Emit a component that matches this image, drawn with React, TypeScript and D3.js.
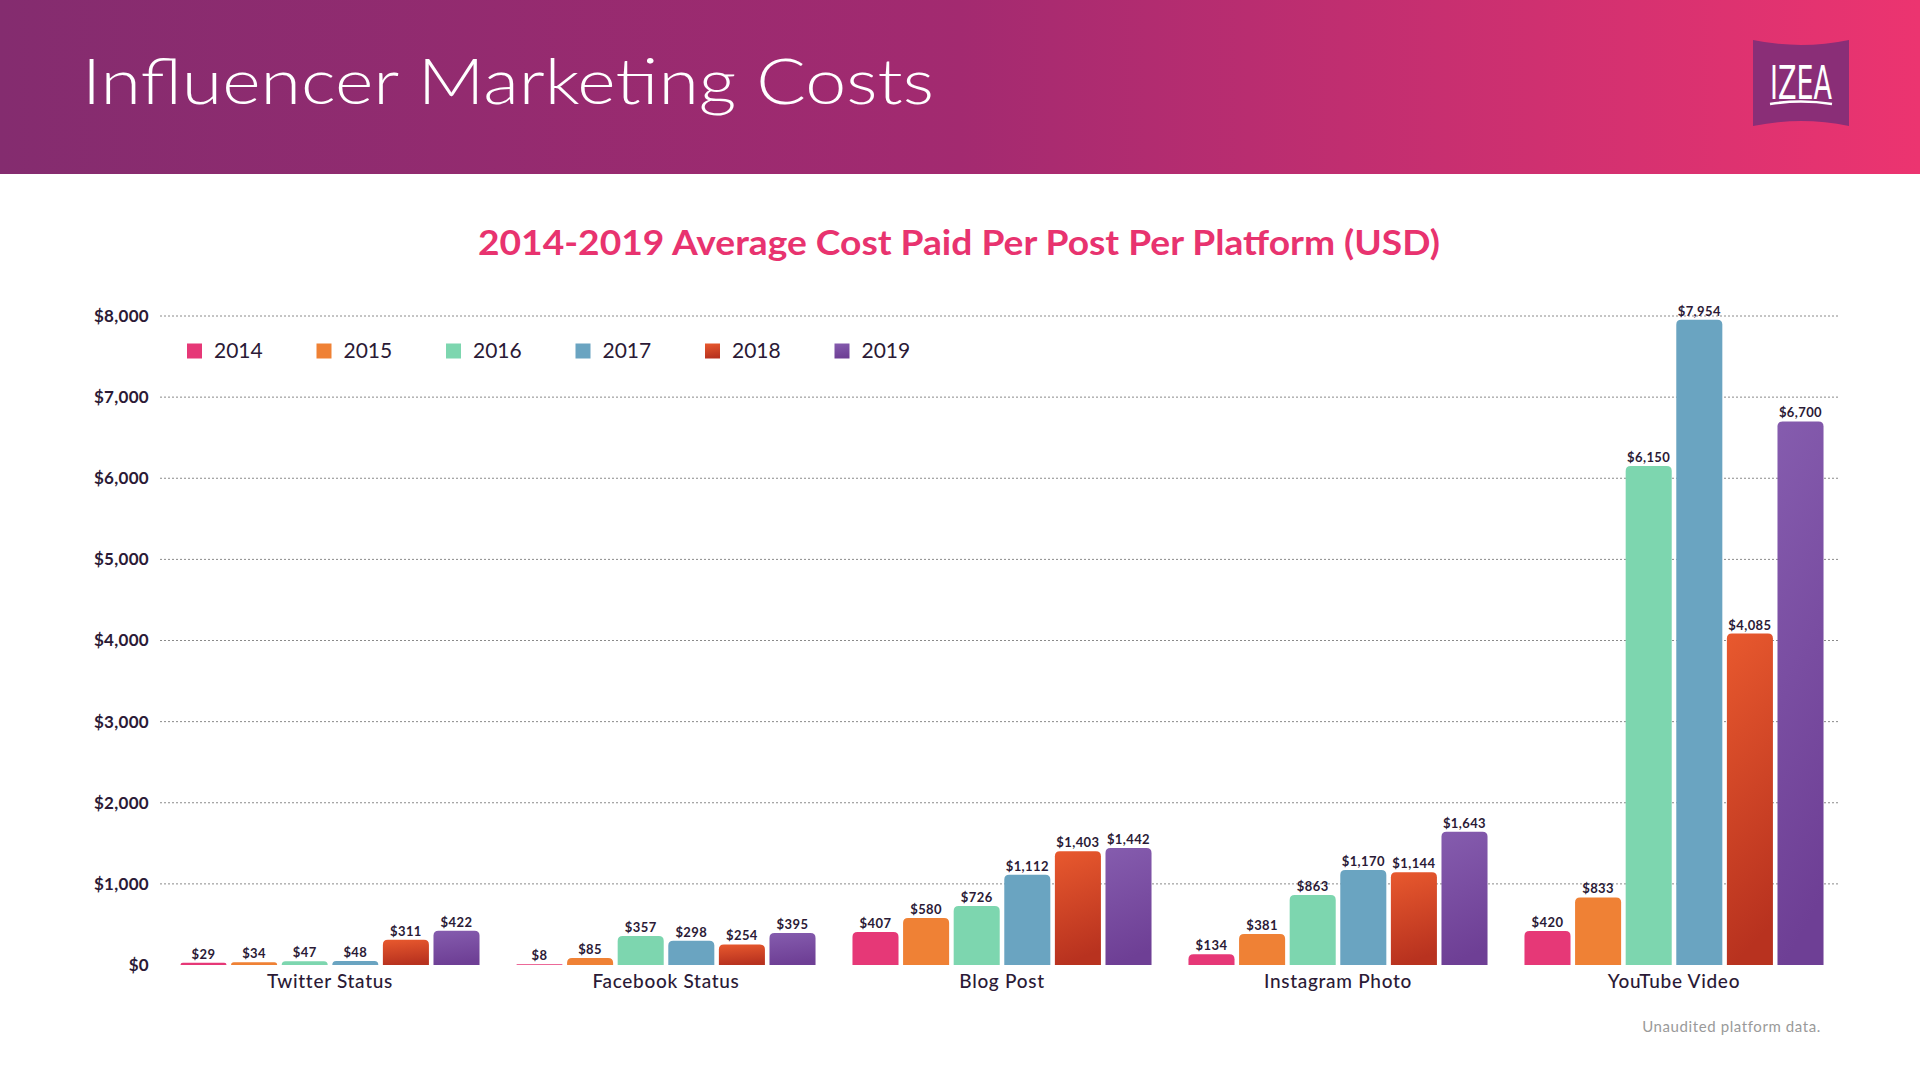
import * as React from "react";
import * as d3 from "d3";

const platforms = ["Twitter Status", "Facebook Status", "Blog Post", "Instagram Photo", "YouTube Video"];
const years = ["2014", "2015", "2016", "2017", "2018", "2019"];

// cost per post, one array per year, in platform order
const cost2014 = [29, 8, 407, 134, 420];
const cost2015 = [34, 85, 580, 381, 833];
const cost2016 = [47, 357, 726, 863, 6150];
const cost2017 = [48, 298, 1112, 1170, 7954];
const cost2018 = [311, 254, 1403, 1144, 4085];
const cost2019 = [422, 395, 1442, 1643, 6700];
const costs = [cost2014, cost2015, cost2016, cost2017, cost2018, cost2019];

const yTicks = [0, 1000, 2000, 3000, 4000, 5000, 6000, 7000, 8000];

const W = 1920;
const H = 1080;
const FONT = "Lato, 'Open Sans', sans-serif";
const INK = "#2b1a36";

// flat colours, 2018 and 2019 are gradients
const fills: Record<string, string> = {
  "2014": "#e63877",
  "2015": "#ef8135",
  "2016": "#7dd6af",
  "2017": "#6aa4c1",
  "2018": "url(#g2018)",
  "2019": "url(#g2019)",
};

const money = (v: number) => "$" + d3.format(",")(v);

// path for a bar with rounded top corners
const barPath = (x: number, y: number, w: number, h: number, r: number) => {
  const rr = Math.min(r, h, w / 2);
  return `M${x},${y + h}V${y + rr}Q${x},${y} ${x + rr},${y}H${x + w - rr}Q${x + w},${y} ${x + w},${y + rr}V${y + h}Z`;
};

const App = () => {
  const x0 = d3.scaleBand().domain(platforms).range([162, 1842]).padding(0);
  const x1 = d3
    .scaleBand()
    .domain(years)
    .range([0, x0.bandwidth()])
    .paddingInner(0.09)
    .paddingOuter(0.365);
  const y = d3.scaleLinear().domain([0, 8000]).range([965, 316]);

  const legendX = d3.scaleBand().domain(years).range([187, 187 + 129.5 * 6]);

  const bars = platforms.flatMap((p, pi) =>
    years.map((yr, yi) => {
      const v = costs[yi][pi];
      const bx = (x0(p) ?? 0) + (x1(yr) ?? 0);
      const bw = x1.bandwidth();
      const top = y(v);
      return (
        <g key={p + yr}>
          <path d={barPath(bx, top, bw, y(0) - top, 5)} fill={fills[yr]} />
          <text
            x={bx + bw / 2}
            y={top - 4}
            textAnchor="middle"
            fontSize={13}
            fontWeight={700}
            letterSpacing={0.4}
            fill={INK}
          >
            {money(v)}
          </text>
        </g>
      );
    })
  );

  return (
    <div style={{ position: "absolute", left: 0, top: 0 }}>
      <svg width={W} height={H} fontFamily={FONT} style={{ display: "block" }}>
        <defs>
          <linearGradient id="hdr" x1="0" y1="0" x2="1" y2="0">
            <stop offset="0%" stopColor="#842c6f" />
            <stop offset="50%" stopColor="#a32a70" />
            <stop offset="100%" stopColor="#ec3470" />
          </linearGradient>
          <linearGradient id="g2018" x1="0" y1="0" x2="0.15" y2="1">
            <stop offset="0%" stopColor="#e8592e" />
            <stop offset="100%" stopColor="#b8321f" />
          </linearGradient>
          <linearGradient id="g2019" x1="0" y1="0" x2="0.15" y2="1">
            <stop offset="0%" stopColor="#855cae" />
            <stop offset="100%" stopColor="#6e3f95" />
          </linearGradient>
        </defs>

        <rect x={0} y={0} width={W} height={H} fill="#fff" />

        {/* header band */}
        <rect x={0} y={0} width={W} height={174} fill="url(#hdr)" />
        <text
          x={82}
          y={104}
          fontSize={64}
          fontWeight={300}
          fill="#fff"
          textLength={852}
          lengthAdjust="spacingAndGlyphs"
        >
          Influencer Marketing Costs
        </text>

        {/* IZEA logo */}
        <g>
          <path
            d="M1753,40 Q1801,50 1849,40 L1849,126 Q1801,116 1753,126 Z"
            fill="#8a2e77"
          />
          <text
            x={1801}
            y={99}
            textAnchor="middle"
            fontSize={46}
            fontFamily="'DejaVu Sans Condensed', 'DejaVu Sans', sans-serif"
            fill="#fff"
            textLength={62}
            lengthAdjust="spacingAndGlyphs"
          >
            IZEA
          </text>
          <path d="M1770,104 Q1801,99 1832,104" fill="none" stroke="#fff" strokeWidth={2.5} />
        </g>

        <text
          x={959}
          y={255}
          textAnchor="middle"
          fontSize={34}
          fontWeight={700}
          fill="#e8336f"
          textLength={962}
          lengthAdjust="spacingAndGlyphs"
        >
          2014-2019 Average Cost Paid Per Post Per Platform (USD)
        </text>

        {/* grid + y labels */}
        {yTicks.map((t) => (
          <g key={t}>
            {t > 0 && (
              <line
                x1={160}
                x2={1840}
                y1={y(t)}
                y2={y(t)}
                stroke="#8a8a8a"
                strokeWidth={1}
                strokeDasharray="2,2"
              />
            )}
            <text
              x={149}
              y={y(t)}
              dy="0.35em"
              textAnchor="end"
              fontSize={17}
              fontWeight={700}
              letterSpacing={0.3}
              fill={INK}
            >
              {money(t)}
            </text>
          </g>
        ))}

        {/* legend */}
        {years.map((yr) => (
          <g key={yr} transform={`translate(${legendX(yr)},351)`}>
            <rect x={0} y={-7.5} width={15} height={15} fill={fills[yr]} />
            <text x={27} y={0} dy="0.35em" fontSize={21} fill={INK}>
              {yr}
            </text>
          </g>
        ))}

        {bars}

        {/* category labels */}
        {platforms.map((p) => (
          <text
            key={p}
            x={(x0(p) ?? 0) + x0.bandwidth() / 2}
            y={988}
            textAnchor="middle"
            fontSize={19}
            fontWeight={500}
            letterSpacing={0.7}
            fill={INK}
          >
            {p}
          </text>
        ))}

        <text
          x={1821}
          y={1032}
          textAnchor="end"
          fontSize={15}
          letterSpacing={0.6}
          fill="#9a9a9a"
        >
          Unaudited platform data.
        </text>
      </svg>
    </div>
  );
};

export default App;
